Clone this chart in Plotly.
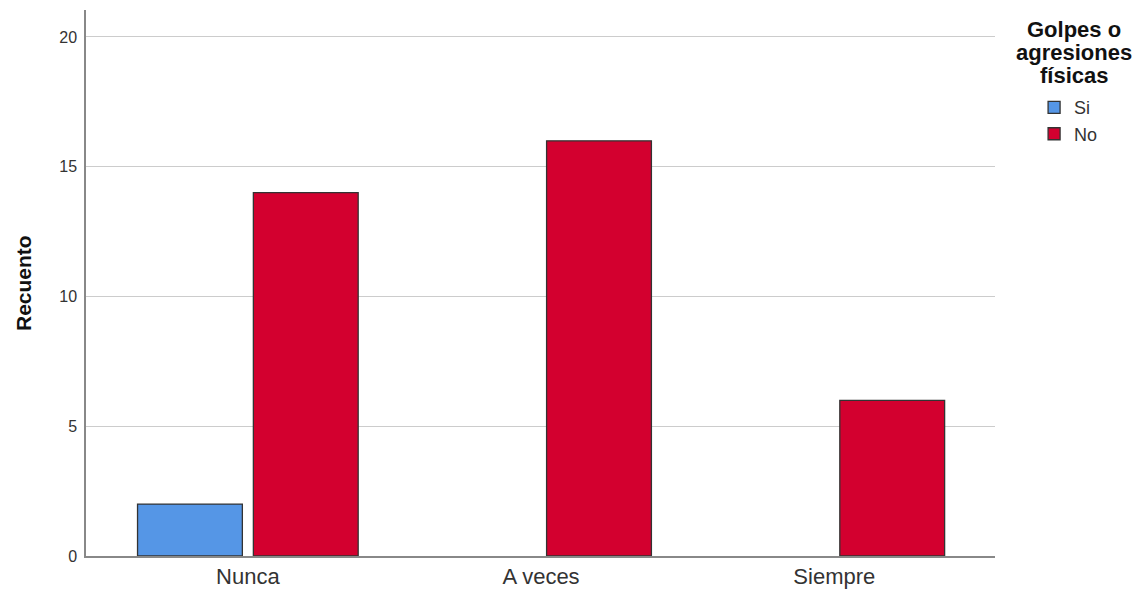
import plotly.graph_objects as go

categories = ["Nunca", "A veces", "Siempre"]
si_values = [2, 0, 0]
no_values = [14, 16, 6]
y_ticks = [0, 5, 10, 15, 20]
legend_title_lines = ["Golpes o", "agresiones", "físicas"]
y_title = "Recuento"

FONT = "Liberation Sans, Arial, sans-serif"

fig = go.Figure()
fig.add_trace(go.Bar(name="Si", x=categories, y=si_values,
                     marker=dict(color="#5596E6",
                                 line=dict(color="#333333",
                                           width=[1.3 if v > 0 else 0 for v in si_values]))))
fig.add_trace(go.Bar(name="No", x=categories, y=no_values,
                     marker=dict(color="#D3002F",
                                 line=dict(color="#333333",
                                           width=[1.3 if v > 0 else 0 for v in no_values]))))

W, H = 1140, 582
ML, MR, MT, MB = 78, 153, 2, 34
plot_w = W - ML - MR
plot_h = H - MT - MB
fig.update_layout(
    width=W, height=H,
    margin=dict(l=ML, r=MR, t=MT, b=MB),
    paper_bgcolor="white", plot_bgcolor="white",
    barmode="group", bargap=0.21, bargroupgap=0.095,
    font=dict(family=FONT, color="#222222"),
    xaxis=dict(range=[-0.552, 2.548], showline=True, linecolor="#888888", linewidth=1.5,
               tickfont=dict(size=22, color="#333333"), ticks="", showgrid=False),
    yaxis=dict(range=[0, 21.04], tickvals=y_ticks, showline=True, linecolor="#888888", linewidth=1.5,
               showgrid=True, gridcolor="#CCCCCC", gridwidth=1.2, zeroline=False,
               tickfont=dict(size=16, color="#333333"), ticks="", ticklabelstandoff=4),
    legend=dict(x=1.043, y=0.855, xanchor="left", yanchor="top",
                font=dict(size=18, color="#333333"), itemwidth=30, tracegroupgap=0,
                bgcolor="rgba(0,0,0,0)"),
    showlegend=True,
)
# y-axis title
fig.add_annotation(text=f"<b>{y_title}</b>", xref="paper", yref="paper",
                   x=(15 - ML) / plot_w, y=0.5, xanchor="center", yanchor="middle",
                   textangle=-90, showarrow=False,
                   font=dict(size=21, color="#111111", family=FONT))
# legend title
for i, line in enumerate(legend_title_lines):
    ypix = 22 + 22.5 * i
    fig.add_annotation(text=f"<b>{line}</b>", xref="paper", yref="paper",
                       x=1.0 + (1074 - 995) / plot_w, y=1 - (ypix - MT) / plot_h,
                       xanchor="center", yanchor="middle", showarrow=False,
                       font=dict(size=22, color="#111111", family=FONT))

fig.write_html("out.html")
